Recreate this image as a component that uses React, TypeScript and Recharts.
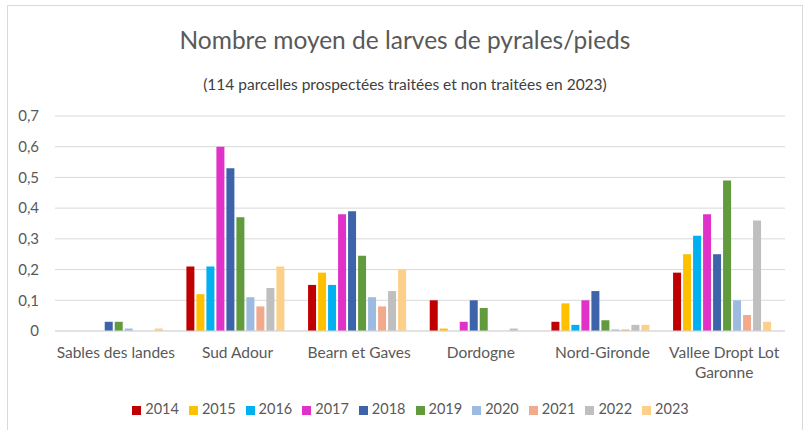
import { BarChart, Bar, XAxis, YAxis, CartesianGrid, Legend } from 'recharts'

const regions = ['Sables des landes', 'Sud Adour', 'Bearn et Gaves', 'Dordogne', 'Nord-Gironde', 'Vallee Dropt Lot Garonne']
const years = ['2014', '2015', '2016', '2017', '2018', '2019', '2020', '2021', '2022', '2023']

const y2014 = [0, 0.21, 0.15, 0.1, 0.03, 0.19]
const y2015 = [0, 0.12, 0.19, 0.008, 0.09, 0.25]
const y2016 = [0, 0.21, 0.15, 0, 0.02, 0.31]
const y2017 = [0, 0.6, 0.38, 0.03, 0.1, 0.38]
const y2018 = [0.03, 0.53, 0.39, 0.1, 0.13, 0.25]
const y2019 = [0.03, 0.37, 0.245, 0.075, 0.035, 0.49]
const y2020 = [0.008, 0.11, 0.11, 0, 0.005, 0.1]
const y2021 = [0, 0.08, 0.08, 0, 0.005, 0.052]
const y2022 = [0, 0.14, 0.13, 0.008, 0.02, 0.36]
const y2023 = [0.008, 0.21, 0.2, 0, 0.02, 0.03]

const yTicks = [0, 0.1, 0.2, 0.3, 0.4, 0.5, 0.6, 0.7]

const series = [y2014, y2015, y2016, y2017, y2018, y2019, y2020, y2021, y2022, y2023]
const colors = ['#c00000', '#ffc000', '#00b0f0', '#e032c8', '#3d64aa', '#629b3e', '#9dbbe0', '#f2a98c', '#bfbfbf', '#fdd08a']

const data = regions.map((r, i) => {
  const row: Record<string, string | number> = { region: r }
  years.forEach((y, j) => { row[y] = series[j][i] })
  return row
})

const font = 'Lato, "Noto Sans", sans-serif'

const fmt = (v: number) => (v === 0 ? '0' : v.toFixed(1).replace('.', ','))

function RegionTick(props: any) {
  const { x, y, payload } = props
  const words: string[] = String(payload.value).split(' ')
  const lines: string[] = []
  let cur = ''
  words.forEach((w) => {
    const next = cur ? cur + ' ' + w : w
    if (next.length > 17 && cur) {
      lines.push(cur)
      cur = w
    } else cur = next
  })
  if (cur) lines.push(cur)
  return (
    <text x={x} y={y} textAnchor="middle" fill="#595959" fontSize={15.5} fontFamily={font}>
      {lines.map((l, i) => (
        <tspan key={i} x={x} dy={i === 0 ? 19 : 20}>{l}</tspan>
      ))}
    </text>
  )
}

export default function App() {
  return (
    <div style={{ position: 'absolute', left: 7, top: 5, width: 796, height: 430, border: '1px solid #d9d9d9', boxSizing: 'border-box', background: '#fff' }}>
      <div style={{ position: 'absolute', top: 19, width: '100%', textAlign: 'center', fontFamily: font, fontSize: 24.5, color: '#595959' }}>
        Nombre moyen de larves de pyrales/pieds
      </div>
      <div style={{ position: 'absolute', top: 69, width: '100%', textAlign: 'center', fontFamily: font, fontSize: 15.5, color: '#404040' }}>
        (114 parcelles prospectées traitées et non traitées en 2023)
      </div>
      <div style={{ position: 'absolute', left: 0, top: 0 }}>
        <BarChart width={796} height={425} data={data} margin={{ top: 110, right: 19, left: 0, bottom: 0 }} barCategoryGap="8%" barGap={2}>
          <CartesianGrid vertical={false} stroke="#d9d9d9" />
          <XAxis dataKey="region" tick={<RegionTick />} tickLine={false} axisLine={{ stroke: '#d9d9d9' }} height={70} interval={0} />
          <YAxis domain={[0, 0.7]} ticks={yTicks} tickFormatter={fmt} tick={{ fontSize: 15, fill: '#595959', fontFamily: font }} axisLine={false} tickLine={false} width={47} tickMargin={10} />
          <Legend verticalAlign="bottom" iconType="square" iconSize={9} height={30}
            wrapperStyle={{ fontFamily: font, fontSize: 14.5, color: '#595959', bottom: 1, left: 19 }}
            formatter={(v: string) => <span style={{ color: '#595959' }}>{v}</span>} />
          {years.map((y, j) => (
            <Bar key={y} dataKey={y} fill={colors[j]} isAnimationActive={false} />
          ))}
        </BarChart>
      </div>
    </div>
  )
}
